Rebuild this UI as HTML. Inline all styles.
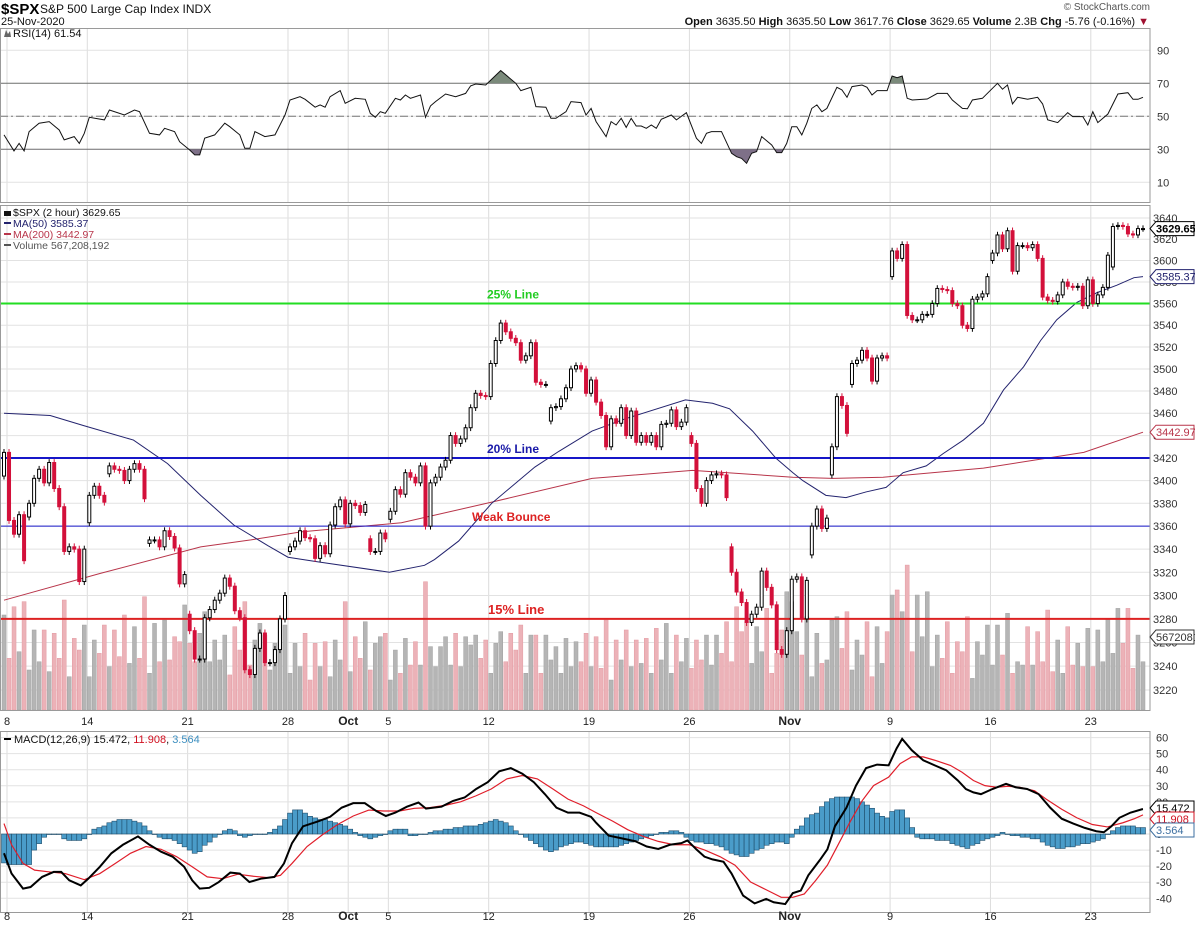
<!DOCTYPE html>
<html><head><meta charset="utf-8"><title>$SPX 2 hour chart</title>
<style>
html,body{margin:0;padding:0;background:#fff;}
svg{display:block;font-family:"Liberation Sans",sans-serif;}
</style></head>
<body>
<svg id="chart" width="1195" height="931" viewBox="0 0 1195 931" xmlns="http://www.w3.org/2000/svg">
<rect x="0" y="0" width="1195" height="931" fill="#fff"/>
<g>
<text x="1" y="14" font-size="15" font-weight="bold" fill="#000">$SPX</text>
<text x="40" y="13" font-size="12" fill="#111">S&amp;P 500 Large Cap Index  INDX</text>
<text x="1" y="25" font-size="11" fill="#111">25-Nov-2020</text>
<text x="1150" y="10" font-size="10" fill="#555" text-anchor="end">© StockCharts.com</text>
<text x="1149" y="25" font-size="11" fill="#111" text-anchor="end"><tspan font-weight="bold">Open</tspan> 3635.50  <tspan font-weight="bold">High</tspan> 3635.50  <tspan font-weight="bold">Low</tspan> 3617.76  <tspan font-weight="bold">Close</tspan> 3629.65  <tspan font-weight="bold">Volume</tspan> 2.3B  <tspan font-weight="bold">Chg</tspan> -5.76 (-0.16%) <tspan fill="#a01030">▼</tspan></text>
</g>
<g id="grid"></g>
<g id="rsi"></g>
<g id="price"></g>
<g id="macd"></g>
<g id="axes"></g>
</svg>
<script>
// ---------- DATA ----------
const closes = [3425,3365,3353,3370,3330,3380,3402,3410,3398,3416,3393,3377,3338,3342,3340,3312,3340,3387,3395,3387,
3381,3413,3410,3409,3400,3410,3415,3410,3384,3348,3348,3342,3356,3351,3341,3310,3318,3270,3246,3246,
3281,3288,3296,3302,3315,3308,3287,3281,3237,3233,3255,3268,3243,3243,3254,3280,3300,3342,3347,3356,
3350,3349,3332,3343,3336,3361,3377,3383,3362,3380,3378,3372,3379,3338,3338,3354,3349,3373,3392,3388,
3407,3403,3398,3413,3360,3398,3403,3412,3418,3440,3433,3437,3447,3465,3478,3476,3475,3505,3526,3542,
3534,3528,3524,3508,3512,3524,3488,3486,3486,3465,3466,3473,3483,3500,3503,3500,3478,3490,3470,3458,
3430,3455,3451,3465,3440,3462,3434,3440,3434,3440,3430,3450,3451,3463,3448,3452,3465,3433,3393,3380,
3400,3405,3406,3405,3385,3320,3303,3294,3277,3284,3290,3321,3307,3292,3254,3250,3270,3314,
3316,3280,3313,3360,3375,3358,3367,3430,3475,3467,3442,3505,3508,3517,3510,3489,3510,3512,3510,3609,
3602,3615,3549,3545,3545,3550,3550,3560,3574,3573,3572,3560,3558,3540,3537,3564,3566,3569,3585,3607,
3624,3611,3628,3590,3614,3614,3612,3615,3602,3566,3563,3562,3568,3580,3576,3575,3576,3558,3582,3560,
3568,3575,3605,3632,3633,3632,3625,3624,3630,3630];
const firstOpen = 3404;
const gapIdx  = [5,17,21,29,37,57,73,77,109,137,145,161,165,169,177,197,221];
const gapOpen = [3368,3363,3406,3345,3284,3338,3349,3366,3453,3440,3342,3335,3405,3486,3585,3600,3594];
const volumes = [691,376,751,424,788,291,582,351,582,279,558,376,800,242,521,436,618,242,509,412,
618,315,582,388,691,339,606,376,824,267,630,351,654,364,533,497,764,485,351,558,
715,351,509,364,545,255,606,436,788,327,509,630,545,291,485,667,618,267,485,315,
558,218,485,315,497,242,509,364,788,279,533,376,642,291,485,533,558,218,436,267,
521,327,497,327,933,461,315,461,533,327,558,315,533,473,545,376,509,267,485,570,
351,558,436,618,267,545,545,267,545,364,461,267,521,315,497,351,558,315,533,303,
654,218,509,364,582,315,509,339,521,267,594,364,630,267,545,351,521,303,509,364,
545,327,545,412,642,351,751,570,642,339,606,424,739,267,412,582,860,788,
570,400,679,242,558,339,364,654,679,448,715,291,509,400,642,242,606,339,570,836,
873,715,1054,424,836,533,860,315,545,376,642,267,497,424,679,230,497,400,618,327,
618,400,703,267,351,327,606,327,570,351,727,279,509,267,606,327,485,315,594,315,
582,351,667,412,739,485,739,303,545,351,570];
const ma50Idx  = [0,9.2,15.8,25.8,32.6,39.2,45.8,52.6,56.6,62.6,76.8,83.8,85.8,90.6,97.2,105.8,110.6,117.2,123.8,135.8,141.2,144.6,149.2,153.8,157.2,159.2,163.8,167.8,171.8,175.8,179.2,183.8,187.2,191.2,195.2,199.2,203.2,206.6,209.8,213.8,217.8,221.8,225.2,227];
const ma50Vals = [3460,3458,3449,3436,3415,3387,3361,3343,3333,3329,3320,3326,3331,3347,3380,3412,3426,3444,3455,3472,3469,3464,3444,3420,3407,3400,3387,3385,3390,3394,3407,3413,3424,3436,3451,3481,3502,3526,3545,3561,3570,3577,3584,3585];
const ma200Idx  = [0,19.2,39.2,49.2,59.2,79.2,97.2,117.2,137.2,157.2,165.2,175.2,195.2,205.2,215.2,227];
const ma200Vals = [3296,3319,3342,3348,3355,3363,3381,3402,3409,3403,3402,3403,3411,3418,3425,3443];
const rsiIdx = [0,2,3,4,5,7,9,11,12,14,15,16,17,20,21,24,26,27,29,31,32,34,35,37,38,39,40,42,44,45,47,48,49,50,52,54,56,57,59,60,62,63,64,65,67,68,70,72,73,74,75,76,78,79,80,81,83,84,85,86,88,90,92,93,94,96,99,102,103,105,106,108,109,110,112,113,115,116,117,
118,120,121,122,123,124,125,126,127,128,129,130,131,133,134,136,138,139,140,141,143,145,146,147,148,149,150,151,153,154,155,156,157,158,159,160,161,162,163,164,166,167,168,169,171,172,173,174,176,177,178,179,180,181,184,186,188,189,191,192,193,195,198,199,200,201,202,203,204,206,207,208,210,212,213,215,216,217,218,220,222,224,225,226,227,227.5];
const rsiVals = [38.7,29,33.6,29,40.7,45.8,46.8,41.7,35.7,37.7,33.6,39.7,49.4,47.8,53.8,50.8,53.8,52.8,39.7,38.7,42.7,40.7,34.6,29.6,26.6,26.6,36.7,38.7,45.8,43.7,38.7,30.6,30.6,40.7,37.7,38.7,50.8,59.9,61.9,60.3,55.5,56.9,55.5,61.9,65.6,57.9,60.9,60.3,51.8,49.4,52.8,51.8,60.9,59.9,62.9,60.9,62.9,49.4,56.3,58.9,63.5,61.9,63.9,68.4,69.6,69,77.7,70,65.6,67.6,55.9,55.5,48.8,48.8,52.8,58.9,58.3,50.8,54.8,
46.8,37.7,46.8,44.7,48.8,43.3,48.8,44.1,44.1,42.7,44.7,42.7,48.2,50.8,47.8,52.2,36.7,33.6,39.7,40.7,40.7,27.6,25.5,24.5,21.5,27.6,28.6,37.7,32.6,28,28,33.6,43.7,43.7,38.7,45.8,54.8,56.9,52.8,54.8,67.6,66,61.5,68,69,67.6,62.9,65.6,65.6,74.4,73.4,74.4,60.9,59.9,60.5,63.9,63.9,59.9,54.8,54.6,59.9,60.9,70,66.4,69,57.5,61.5,60.9,60.3,61.5,57.5,47.8,46.2,52.2,49.8,49.8,44.7,52.8,46.2,51.4,63.5,64.3,60.3,60.3,61.5,61.54];
const macdIdx = [0,1.5,3.8,5.3,7.6,9.9,11.4,13,15.3,16.8,19.1,21.4,23.7,26.7,29,31.3,33.6,35.9,37.5,39,40.9,42.8,45.1,47,48.9,51.2,53.9,55.8,57.4,59.6,62.7,65,67.3,69.6,71.9,74.2,76.1,78,80.3,82.6,84.1,87.2,89.5,91.8,94.1,96.4,98.7,101,103.3,105.6,107.8,110.1,112.4,114.7,117,
118,120.5,122.8,125.9,128.1,130.4,132.7,135,136.2,138.1,139.6,141.2,143.4,145,147.3,149.6,151.9,153.4,155.7,157.2,158.8,160.3,162.6,164.1,165.6,167.9,169.8,171.8,174,176.3,177.9,179,180.9,183.2,185.5,187.8,190.1,191.7,193.2,194.7,197,199.7,201.6,203.9,206.2,208.5,210.8,213.1,215.4,217.7,219.2,220.7,222.3,224.5,226.8,227.5];
const macdVals = [-12,-24.6,-34,-33,-26.7,-23.6,-23.6,-28.8,-32,-27.8,-20.4,-12,-6.7,-1.5,-6.7,-11,-14.1,-20.4,-28.8,-34,-33.5,-29.9,-24,-24.6,-29.9,-27.8,-26.7,-18.3,-5.7,4.8,8,10.7,16.4,19.2,19.2,14.3,11.2,13.3,17,19.6,15.8,17,20.6,22.7,28,32.2,39,41,37.5,32.2,24.8,16.4,13.3,13.3,10.7,
7,-1,-2.5,-4.6,-7.8,-9.3,-6.7,-5.7,-4,-9.9,-14.1,-15.8,-17.3,-24.6,-38.3,-43.2,-40.4,-42.5,-43.6,-36.8,-35.2,-25.7,-16.2,-9.5,4.8,16.4,30.1,41,43.2,42.7,53.3,59.2,52.2,45.9,42.7,39.6,33.3,28,25.9,24.8,28,31.2,29.1,28,24.8,16.4,9.5,6.5,3.8,1.7,1.1,4.8,10.1,13.3,15.4,15.47];
const sigIdx = [0,1.5,3.8,6.1,9.1,12.2,16,19.1,22.2,25.2,28.3,31.3,34.4,37.5,40.5,43.6,46.6,49.7,52.8,55.1,57.4,60.4,63.5,66.5,69.6,72.7,75.7,78.8,81.8,84.9,88,91,94.1,97.1,100.2,103.3,106.3,109.4,112.4,115.5,
118,121.3,124.3,127.4,130.4,133.5,136.6,139.6,142.7,145.7,148.8,151.9,154.9,157.2,159.5,161.8,164.1,166.4,168.7,171,173.3,176.3,178.6,180.9,183.2,185.5,188.6,190.9,193.2,195.5,197.8,200.1,202.4,205.4,207.7,210.8,213.8,216.9,219.9,223,225.3,227.5];
const sigVals = [6.5,-6.7,-18.3,-22.5,-23.6,-24.6,-28.4,-24.6,-18.3,-12,-7.8,-9.5,-14.1,-20.4,-26.7,-27.8,-25,-26.3,-27.2,-25.7,-18.3,-7.8,-0.4,5.9,11.2,14.9,14.3,14.3,16,16.4,17.9,20,23.8,28,34.3,36.4,34.3,28,21.7,17.5,
13.3,8,2.7,-1.5,-4.6,-6.7,-6.7,-9.9,-14.1,-19.4,-29.9,-34.7,-39.4,-39.4,-37.3,-28.8,-19.4,-5.7,8,20.6,30.1,35.4,43.8,48,48,45.9,42.7,38.5,33.3,30.1,29.1,29.7,29.1,26.9,21.7,15.4,10.1,5.9,4.4,7,9.5,11.9];
const histVals = [-18,-19,-19,-19,-19,-19,-10,-6,-2,0,0,0,-3,-4,-4,-4,-3,0,3,4,5,7,8,9,9,9,8,7,5,2,0,
-2,-3,-3,-4,-6,-8,-10,-12,-11,-7,-5,-2,0,2,3,2,-1,-2,-1,0,0,0,1,3,5,9,13,15,15,13,11,10,9,9,8,7,6,5,3,1,
-1,-2,-3,-2,-1,0,2,3,3,3,-1,-1,0,0,1,2,2,3,3,4,4,5,5,5,6,7,8,9,8,7,5,2,0,-2,-4,-6,-8,-10,-11,-10,-8,-7,-6,-5,-5,-6,-7,
-8,-8,-8,-8,-8,-7,-6,-5,-4,-3,-2,-1,0,1,1,2,2,1,-2,-4,-5,-5,-6,-6,-7,-8,-10,-12,-13,-14,-14,-12,-10,-9,-7,-6,-5,-5,-6,-2,3,5,
10,12,13,17,20,22,23,23,23,23,22,20,18,16,13,11,10,14,15,15,10,4,-2,-3,-3,-3,-4,-4,-4,-6,-7,-8,-9,-7,-6,-4,-3,-2,-1,1,0,
-1,-1,-2,-2,-3,-3,-5,-7,-8,-9,-9,-8,-8,-7,-6,-6,-5,-4,-3,0,2,4,5,5,5,4,4];
const weekIdx = [0,16,36,56,68,76,96,116,136,156,176,196,216];
const weekLabels = ["8","14","21","28","Oct","5","12","19","26","Nov","9","16","23"];
const priceTicks = [3640,3620,3600,3580,3560,3540,3520,3500,3480,3460,3440,3420,3400,3380,3360,3340,3320,3300,3280,3260,3240,3220];
const rsiTicks = [90,70,50,30,10];
const macdTicks = [60,50,40,30,20,10,0,-10,-20,-30,-40];
const refLevels = [3560,3420,3360,3280];
const refLabels = ["25% Line","20% Line","Weak Bounce","15% Line"];

// ---------- AXES ----------
const NS = "http://www.w3.org/2000/svg";
const N = closes.length;
const PLOT_R = 1150;
function xOf(i){ return 4 + i * (1139 / (N - 1)); }
const LP0 = Math.log(3640), LPR = Math.log(3640/3220);
function yP(p){ return 218 + (LP0 - Math.log(p)) / LPR * 472; }
function yR(r){ return 116.3 - (r - 50) * 1.65; }
function yM(m){ return 834 - 1.607 * m; }
function yV(v){ return 710 - v * 0.1375; }
function el(tag, attrs, parent){
  const e = document.createElementNS(NS, tag);
  for (const k in attrs) e.setAttribute(k, attrs[k]);
  parent.appendChild(e);
  return e;
}
const gGrid = document.getElementById('grid');
const gRsi = document.getElementById('rsi');
const gPrice = document.getElementById('price');
const gMacd = document.getElementById('macd');
const gAxes = document.getElementById('axes');

const panels = [[28,202],[205,710],[731,912]];
panels.forEach(function(pn){
  weekIdx.forEach(function(wi){
    const l = el('line', {x1:xOf(wi)+3, x2:xOf(wi)+3, y1:pn[0], y2:pn[1], stroke:'#dcdcdc', 'stroke-width':1}, gGrid);
    
    
  });
});
priceTicks.forEach(function(p){
  const l = el('line', {x1:0, x2:PLOT_R, y1:yP(p), y2:yP(p), stroke:'#e2e2e2'}, gGrid);
  
  
  const t = el('text', {x:1153, y:yP(p)+4, 'font-size':11, fill:'#333'}, gAxes);
  t.textContent = p;
  
  
});
rsiTicks.forEach(function(r){
  const l = el('line', {x1:0, x2:PLOT_R, y1:yR(r), y2:yR(r), stroke:(r===70||r===30)?'#6a6a6a':'#e2e2e2'}, gGrid);
  
  
  const t = el('text', {x:1157, y:yR(r)+4, 'font-size':11, fill:'#333'}, gAxes);
  t.textContent = r;
  
  
});
const mid = el('line', {x1:0, x2:PLOT_R, y1:yR(50), y2:yR(50), stroke:'#777', 'stroke-dasharray':'8,3,2,3'}, gGrid);


macdTicks.forEach(function(m){
  const l = el('line', {x1:0, x2:PLOT_R, y1:yM(m), y2:yM(m), stroke:'#e2e2e2'}, gGrid);
  
  
  const t = el('text', {x:1156, y:yM(m)+4, 'font-size':11, fill:'#333'}, gAxes);
  t.textContent = m;
  
  
});
panels.forEach(function(pn){
  const r = el('rect', {x:0.5, y:pn[0]+0.5, width:PLOT_R-0.5, height:pn[1]-pn[0], fill:'none', stroke:'#9a9a9a'}, gAxes);
  
  
});
[725, 920].forEach(function(yy){
  weekIdx.forEach(function(wi, k){
    const bold = (weekLabels[k]==='Oct'||weekLabels[k]==='Nov');
    const t = el('text', {x:xOf(wi)+3, y:yy, 'font-size':bold?12:11, 'font-weight':bold?'bold':'normal', 'text-anchor':'middle', fill:'#222'}, gAxes);
    t.textContent = weekLabels[k];
    
    
  });
});

// ---------- RSI ----------
function pts(idx, vals, yf){ return idx.map(function(ix,k){ return [xOf(Math.min(ix, N-1)), yf(vals[k])]; }); }
const rp = pts(rsiIdx, rsiVals, yR);
const defs = el('defs', {}, document.getElementById('chart'));
const c1 = el('clipPath', {id:'clipHigh'}, defs);
el('rect', {x:0, y:28, width:PLOT_R, height:yR(70)-28}, c1);
const c2 = el('clipPath', {id:'clipLow'}, defs);
el('rect', {x:0, y:yR(30), width:PLOT_R, height:202-yR(30)}, c2);
const polyStr = rp.map(function(p){return p[0].toFixed(1)+','+p[1].toFixed(1);}).join(' ');
const fHi = el('polygon', {points: polyStr+' '+rp[rp.length-1][0]+','+yR(70)+' '+rp[0][0]+','+yR(70), fill:'#7b8a7b', 'clip-path':'url(#clipHigh)'}, gRsi);


const fLo = el('polygon', {points: polyStr+' '+rp[rp.length-1][0]+','+yR(30)+' '+rp[0][0]+','+yR(30), fill:'#7e7088', 'clip-path':'url(#clipLow)'}, gRsi);


const rl = el('polyline', {points: polyStr, fill:'none', stroke:'#111', 'stroke-width':1}, gRsi);


const rt = el('text', {x:13, y:37, 'font-size':11, fill:'#111'}, gRsi);
rt.textContent = 'RSI(14) 61.54';


const rico = el('path', {d:'M4,37 L6,30 L8,34 L10,31 L11,37 Z', fill:'#666'}, gRsi);



// ---------- PRICE ----------
const opens = closes.map(function(c,i){ return i===0 ? firstOpen : closes[i-1]; });
gapIdx.forEach(function(gi,k){ if (gi < N) opens[gi] = gapOpen[k]; });
for (let i=0;i<N && i<volumes.length;i++){
  const down = closes[i] < opens[i];
  const v = el('rect', {x:xOf(i)-2, y:yV(volumes[i]), width:4, height:710-yV(volumes[i]), fill:down?'#ecb2b8':'#b5b5b5', stroke:down?'#e39aa2':'#a2a2a2', 'stroke-width':0.5}, gPrice);
  
  
}
const m200 = el('polyline', {points: pts(ma200Idx, ma200Vals, yP).map(function(p){return p.join(',');}).join(' '), fill:'none', stroke:'#b8354a', 'stroke-width':1}, gPrice);


const m50 = el('polyline', {points: pts(ma50Idx, ma50Vals, yP).map(function(p){return p.join(',');}).join(' '), fill:'none', stroke:'#23236e', 'stroke-width':1}, gPrice);


const refColors = ['#22dd22','#1616c8','#1616c8','#dd2222'];
const refWidths = [2,2,1,2];
const refTextColors = ['#22cc22','#1a1aa8','#dd2222','#dd2222'];
const refTextX = [487,487,472,488];
refLevels.forEach(function(lv,k){
  const l = el('line', {x1:0, x2:PLOT_R, y1:yP(lv), y2:yP(lv), stroke:refColors[k], 'stroke-width':refWidths[k]}, gPrice);
  
  
  const t = el('text', {x:refTextX[k], y:yP(lv)-5, 'font-size':k===3?13:12, 'font-weight':'bold', fill:refTextColors[k]}, gPrice);
  t.textContent = refLabels[k];
  
  
});
for (let i=0;i<N;i++){
  const o = opens[i], c = closes[i];
  const up = c >= o;
  const x = xOf(i);
  const top = yP(Math.max(o,c)), bot = yP(Math.min(o,c));
  const col = up ? '#000' : '#d3103a';
  const w = el('line', {x1:x, x2:x, y1:yP(Math.max(o,c)+3), y2:yP(Math.min(o,c)-3), stroke:col, 'stroke-width':1}, gPrice);
  
  
  const b = el('rect', {x:x-1.5, y:top, width:3, height:Math.max(1, bot-top), fill:up?'#fff':'#d3103a', stroke:col, 'stroke-width':1}, gPrice);
  
  
}
const legendLines = [['$SPX (2 hour) 3629.65','#111'],['MA(50) 3585.37','#23236e'],['MA(200) 3442.97','#b8354a'],['Volume 567,208,192','#555']];
legendLines.forEach(function(lg,k){
  const t = el('text', {x:13, y:216+k*11, 'font-size':10.5, fill:lg[1]}, gPrice);
  t.textContent = lg[0];
  
  
  const s = el('rect', {x:4, y:211+k*11, width:7, height:k===0?5:2, fill:lg[1]}, gPrice);
  
  
});
function tag(g, y, txt, col, bold, name){
  const p = el('path', {d:'M1150,'+y+' l6,-7 h38 v14 h-38 z', fill:'#fff', stroke:col, 'stroke-width':1}, g);
  
  
  const t = el('text', {x:1156, y:y+4, 'font-size':11, 'font-weight':bold?'bold':'normal', fill:col}, g);
  t.textContent = txt;
  
  
}
tag(gAxes, yP(closes[N-1]), '3629.65', '#000', true, 'last-price-tag');
tag(gAxes, yP(ma50Vals[ma50Vals.length-1]), '3585.37', '#23236e', false, 'ma50-tag');
tag(gAxes, yP(ma200Vals[ma200Vals.length-1]), '3442.97', '#b8354a', false, 'ma200-tag');
tag(gAxes, 637, '5672081', '#333', false, 'volume-tag');

// ---------- MACD ----------
for (let i=0;i<N && i<histVals.length;i++){
  const h = histVals[i];
  const y0 = yM(0), y1 = yM(h);
  const r = el('rect', {x:xOf(i)-2.5, y:Math.min(y0,y1), width:5, height:Math.max(0.5, Math.abs(y1-y0)), fill:'#4a9cc9', stroke:'#1e4d6b', 'stroke-width':0.6}, gMacd);
  
  
}
const sl = el('polyline', {points: pts(sigIdx, sigVals, yM).map(function(p){return p.join(',');}).join(' '), fill:'none', stroke:'#e01e2a', 'stroke-width':1.2}, gMacd);


const ml = el('polyline', {points: pts(macdIdx, macdVals, yM).map(function(p){return p.join(',');}).join(' '), fill:'none', stroke:'#000', 'stroke-width':2}, gMacd);


const mt = el('text', {x:14, y:743, 'font-size':11, fill:'#111'}, gMacd);
mt.innerHTML = 'MACD(12,26,9) 15.472, <tspan fill="#d01020">11.908</tspan>, <tspan fill="#3d8fc0">3.564</tspan>';


const mico = el('rect', {x:4, y:738, width:7, height:2, fill:'#000'}, gMacd);


tag(gAxes, 808, '15.472', '#000', false, 'macd-value-tag');
tag(gAxes, 819, '11.908', '#d01020', false, 'signal-value-tag');
tag(gAxes, 830, '3.564', '#3d6fa0', false, 'histogram-value-tag');
</script>
</body></html>
